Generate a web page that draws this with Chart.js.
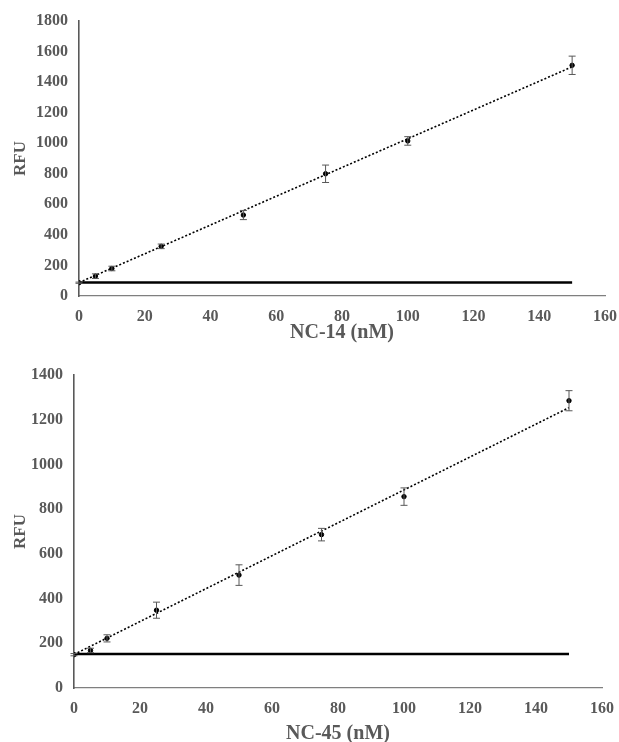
<!DOCTYPE html>
<html>
<head>
<meta charset="utf-8">
<script src="https://cdn.jsdelivr.net/npm/chart.js@4"></script>
<style>
  body { margin: 0; background: #fff; overflow: hidden; }
  .wrap { position: absolute; left: 0; width: 619px; }
</style>
</head>
<body>
<div class="wrap" style="top:0;height:350px"><canvas id="chart14" width="619" height="350"></canvas></div>
<div class="wrap" style="top:350px;height:397px"><canvas id="chart45" width="619" height="397"></canvas></div>
<script>
// concentrations (nM)
const conc = [0, 5, 10, 25, 50, 75, 100, 150];

// NC-14 readings
const rfu14 = [87, 130, 180, 325, 530, 800, 1015, 1510];
const err14 = [4, 15, 15, 15, 30, 57, 28, 60];
const base14 = 88;
const trend14 = [88, 1500];

// NC-45 readings
const rfu45 = [149, 168, 222, 348, 505, 686, 856, 1285];
const err45 = [5, 10, 16, 36, 46, 28, 39, 45];
const base45 = 152;
const trend45 = [150, 1254];

const trendX = [0, 150];
const xTicks = [0, 20, 40, 60, 80, 100, 120, 140, 160];

const gray = '#595959';
const serif = 'Liberation Serif';

// error bars drawn through the chart scales
const errorBars = {
    id: 'errorBars',
    afterDatasetsDraw(chart) {
        const ctx = chart.ctx;
        const xs = chart.scales.x, ys = chart.scales.y;
        chart.data.datasets.forEach(ds => {
            if (!ds.errors) return;
            ctx.save();
            ctx.strokeStyle = gray;
            ctx.lineWidth = 1;
            ds.data.forEach((p, i) => {
                const e = ds.errors[i];
                const px = xs.getPixelForValue(p.x);
                const top = ys.getPixelForValue(p.y + e);
                const bot = ys.getPixelForValue(p.y - e);
                ctx.beginPath();
                ctx.moveTo(px, top); ctx.lineTo(px, bot);
                ctx.moveTo(px - 3.5, top); ctx.lineTo(px + 3.5, top);
                ctx.moveTo(px - 3.5, bot); ctx.lineTo(px + 3.5, bot);
                ctx.stroke();
            });
            ctx.restore();
        });
    }
};

function makeChart(id, values, errors, base, trend, yMax, yStep, title, area) {
    const points = conc.map((c, i) => ({ x: c, y: values[i] }));
    const trendPts = trendX.map((c, i) => ({ x: c, y: trend[i] }));
    const basePts = trendX.map(c => ({ x: c, y: base }));

    new Chart(document.getElementById(id), {
        type: 'scatter',
        data: {
            datasets: [
                {
                    type: 'line',
                    data: basePts,
                    borderColor: '#000',
                    borderWidth: 2.5,
                    pointRadius: 0
                },
                {
                    type: 'line',
                    data: trendPts,
                    borderColor: '#000',
                    borderWidth: 1.6,
                    borderDash: [2, 2],
                    pointRadius: 0
                },
                {
                    data: points,
                    errors: errors,
                    backgroundColor: '#000',
                    borderColor: '#000',
                    pointRadius: 2.2
                }
            ]
        },
        options: {
            responsive: false,
            animation: false,
            layout: { padding: { top: area.top, right: area.right, left: 0, bottom: 0 } },
            plugins: { legend: { display: false }, tooltip: { enabled: false } },
            scales: {
                x: {
                    type: 'linear',
                    min: 0,
                    max: 160,
                    afterBuildTicks: s => { s.ticks = xTicks.map(v => ({ value: v })); },
                    afterFit: s => {
                        s.height = area.xHeight;
                        s.paddingLeft = 0;
                        s.paddingRight = 0;
                    },
                    grid: { display: false, drawTicks: false },
                    border: { color: '#7f7f7f', width: 1.2 },
                    ticks: {
                        color: gray, padding: 11,
                        font: { family: serif, size: 16, weight: 'bold' },
                        callback: v => String(v)
                    },
                    title: {
                        display: true,
                        text: title,
                        color: gray,
                        padding: { top: 0, bottom: area.titlePad },
                        font: { family: serif, size: 20, weight: 'bold' }
                    }
                },
                y: {
                    min: 0,
                    max: yMax,
                    ticks: {
                        stepSize: yStep, color: gray, padding: 11,
                        font: { family: serif, size: 16, weight: 'bold' },
                        callback: v => String(v)
                    },
                    afterFit: s => {
                        s.width = area.left;
                        s.paddingTop = 0;
                        s.paddingBottom = 0;
                    },
                    grid: { display: false, drawTicks: false },
                    border: { color: gray, width: 1.6 },
                    title: {
                        display: true,
                        text: 'RFU',
                        color: gray,
                        padding: { top: 10, bottom: 0 },
                        font: { family: serif, size: 17, weight: 'bold' }
                    }
                }
            }
        },
        plugins: [errorBars]
    });
}

makeChart('chart14', rfu14, err14, base14, trend14, 1800, 200, 'NC-14 (nM)',
    { top: 21, right: 14, left: 79, xHeight: 54, titlePad: 5 });
makeChart('chart45', rfu45, err45, base45, trend45, 1400, 200, 'NC-45 (nM)',
    { top: 25, right: 17, left: 74, xHeight: 59, titlePad: 1 });
</script>
</body>
</html>
